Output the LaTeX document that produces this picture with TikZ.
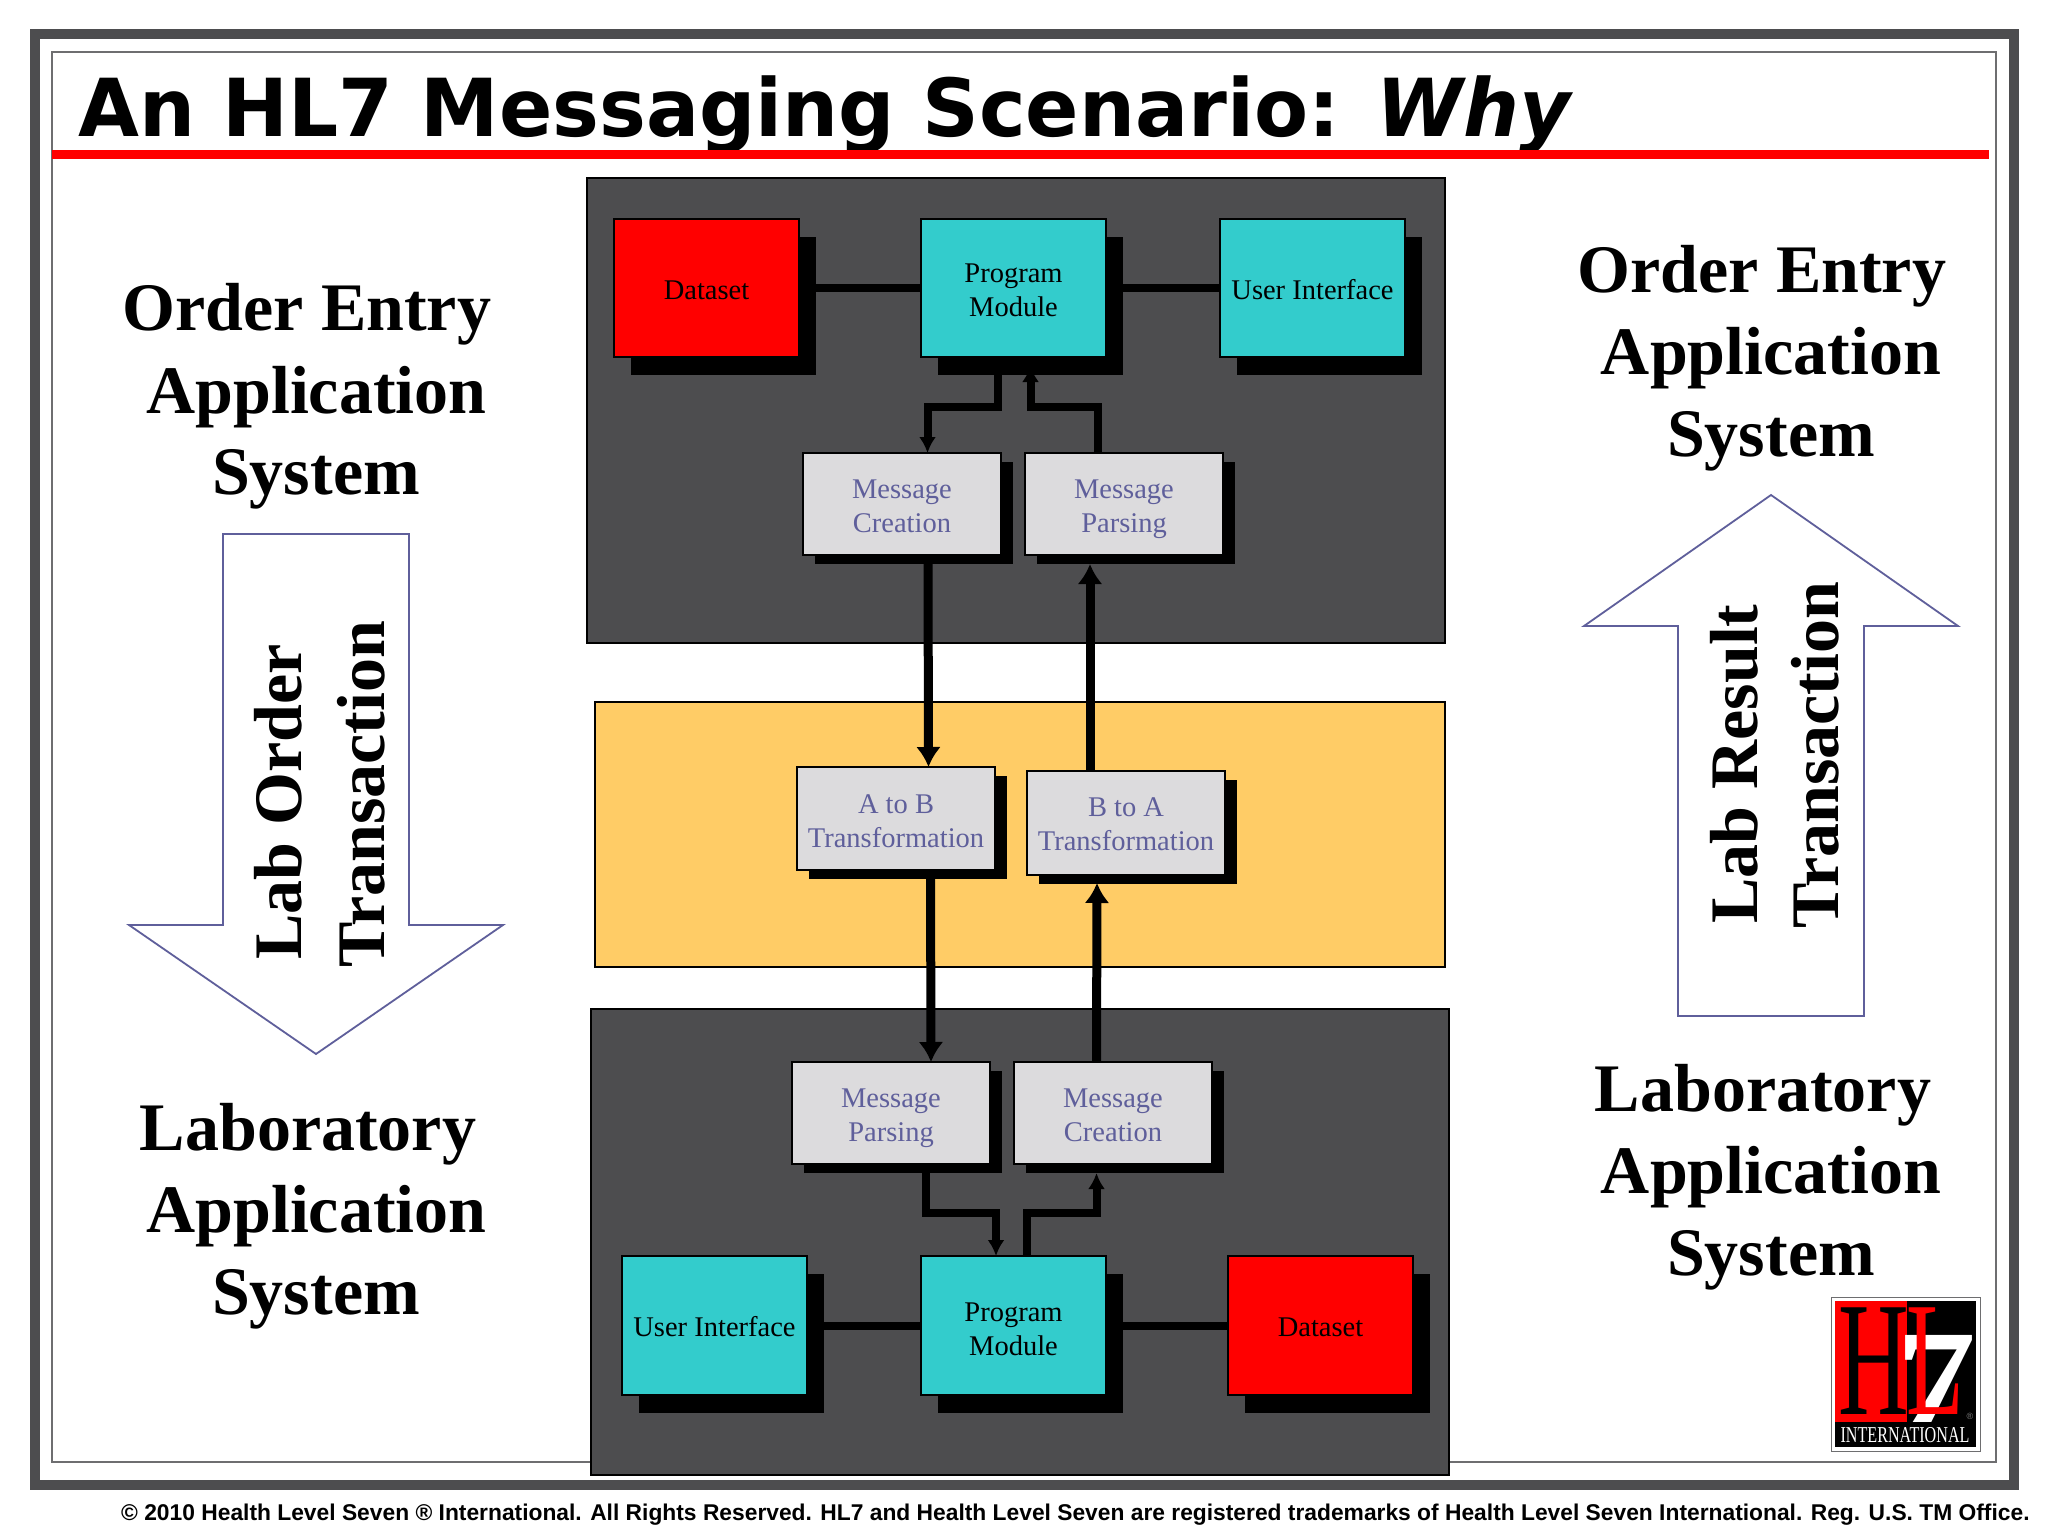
\documentclass[tikz,border=0pt]{standalone}
\usepackage{fontspec}
\setmainfont{Liberation Serif}
\newfontfamily\titlefont{DejaVu Sans}
\newfontfamily\footfont{Liberation Sans}
\usetikzlibrary{arrows.meta,shadows}
\definecolor{darkpanel}{HTML}{4D4D4F}
\definecolor{tealbox}{HTML}{33CCCC}
\definecolor{graybox}{HTML}{DCDBDD}
\definecolor{orangepanel}{HTML}{FFCC66}
\definecolor{msgtext}{HTML}{5F5F9B}
\definecolor{framegray}{HTML}{6E6E70}
\newcommand\lowerline[2][6.5pt]{\raisebox{-#1}[\height][\depth]{#2}}
\tikzset{
  x=1pt,y=-1pt,
  panel/.style={draw=black,line width=1.6pt,anchor=north west,inner sep=0pt,outer sep=0pt},
  bigbox/.style={draw=black,line width=2.6pt,anchor=north west,inner sep=0pt,outer sep=0pt,
    minimum width=185pt,minimum height=138pt,align=center,
    font=\fontsize{28.5}{34}\selectfont,text=black,
    execute at begin node={\rule{0pt}{30pt}},
    execute at end node={\rule[-8pt]{0pt}{8pt}},
    drop shadow={shadow xshift=17pt,shadow yshift=-18pt,fill=black,opacity=1}},
  msgbox/.style={draw=black,line width=2.4pt,fill=graybox,anchor=north west,inner sep=0pt,outer sep=0pt,
    minimum width=198pt,minimum height=102pt,align=center,
    font=\fontsize{28.5}{34}\selectfont,text=msgtext,
    execute at begin node={\rule{0pt}{30pt}},
    execute at end node={\rule[-8pt]{0pt}{8pt}},
    drop shadow={shadow xshift=12pt,shadow yshift=-9pt,fill=black,opacity=1}},
  biglabel/.style={anchor=base,inner sep=0pt,font=\fontsize{68}{82}\selectfont\bfseries},
  sidelabel/.style={anchor=base,inner sep=0pt,rotate=90,font=\fontsize{68}{82}\selectfont\bfseries},
  heavy/.style={line width=9pt,-{Latex[width=25pt,length=20pt]},black},
  thinarrow/.style={line width=8pt,-{Latex[width=17pt,length=16pt]},black,miter limit=10},
  plainlink/.style={line width=8pt,black},
  blockarrow/.style={draw=msgtext,line width=1.8pt,fill=white,line join=miter},
}
\begin{document}
\begin{tikzpicture}
\useasboundingbox (0,0) rectangle (2048,1536);
\fill[white] (0,0) rectangle (2048,1536);
% frames
\draw[darkpanel,line width=10pt] (34.5,34) rectangle (2014,1484.5);
\draw[framegray,line width=2pt] (52,52) rectangle (1996,1462);
% title
\node[anchor=base west,inner sep=0pt,xscale=.984,transform shape,font=\titlefont\fontsize{80}{90}\selectfont\bfseries] (title) at (78,137) {An HL7 Messaging Scenario: \itshape Why};
\fill[red] (52,150) rectangle (1989,159);
% panels
\node[panel,fill=darkpanel,minimum width=858pt,minimum height=465pt] (top) at (587,178) {};
\node[panel,fill=orangepanel,minimum width=850pt,minimum height=265pt] (mid) at (595,702) {};
\node[panel,fill=darkpanel,minimum width=858pt,minimum height=466pt] (bot) at (591,1009) {};
% top boxes
\node[bigbox,fill=red] (dataA) at (614,219) {Dataset};
\node[bigbox,fill=tealbox] (progA) at (921,219) {\lowerline{Program}\\\lowerline{Module}};
\node[bigbox,fill=tealbox] (uiA) at (1220,219) {User Interface};
\node[msgbox] (mcA) at (803,453) {\lowerline{Message}\\\lowerline{Creation}};
\node[msgbox] (mpA) at (1025,453) {\lowerline{Message}\\\lowerline{Parsing}};
% middle boxes
\node[msgbox,minimum height=103pt] (ab) at (797,767) {\lowerline{A to B}\\\lowerline{Transformation}};
\node[msgbox,minimum height=104pt] (ba) at (1027,771) {\lowerline[5.5pt]{B to A}\\\lowerline[5.5pt]{Transformation}};
% bottom boxes
\node[msgbox] (mpB) at (792,1062) {\lowerline{Message}\\\lowerline{Parsing}};
\node[msgbox] (mcB) at (1014,1062) {\lowerline{Message}\\\lowerline{Creation}};
\node[bigbox,fill=tealbox,minimum height=139pt] (uiB) at (622,1256) {User Interface};
\node[bigbox,fill=tealbox,minimum height=139pt] (progB) at (921,1256) {\lowerline[8pt]{Program}\\\lowerline[8pt]{Module}};
\node[bigbox,fill=red,minimum height=139pt] (dataB) at (1228,1256) {Dataset};
% connectors
\draw[plainlink] (dataA) -- (progA);
\draw[plainlink] (progA) -- (uiA);
\draw[plainlink] (uiB) -- (progB);
\draw[plainlink] (progB) -- (dataB);
\draw[thinarrow] ([xshift=-16pt]progA.south) -- ++(0,50) -| ([xshift=25.5pt]mcA.north);
\draw[thinarrow] ([xshift=-26pt]mpA.north) -- ++(0,-46) -| ([xshift=17pt,yshift=-9pt]progA.south);
\draw[heavy] ([xshift=26pt]mcA.south) -- ([xshift=32.5pt]ab.north);
\draw[heavy] ([xshift=-36pt]ba.north) -- ([xshift=-34pt,yshift=-9pt]mpA.south);
\draw[heavy] ([xshift=34.5pt]ab.south) -- ([xshift=40pt]mpB.north);
\draw[heavy] ([xshift=-16.5pt]mcB.north) -- ([xshift=-29pt,yshift=-8pt]ba.south);
\draw[thinarrow] ([xshift=34.5pt]mpB.south) -- ++(0,49) -| ([xshift=-17.5pt]progB.north);
\draw[thinarrow] ([xshift=13.5pt]progB.north) -- ++(0,-43) -| ([xshift=-16.5pt,yshift=-9pt]mcB.south);
% left labels
\node[biglabel] (l1) at (307,330) {Order Entry};
\node[biglabel] (l2) at (316.5,413) {Application};
\node[biglabel] (l3) at (316,494) {System};
\node[biglabel] (l4) at (308,1150) {Laboratory};
\node[biglabel] (l5) at (316.5,1232) {Application};
\node[biglabel] (l6) at (316,1314) {System};
% right labels
\node[biglabel] (r1) at (1762,292) {Order Entry};
\node[biglabel] (r2) at (1771,374) {Application};
\node[biglabel] (r3) at (1771,456) {System};
\node[biglabel] (r4) at (1763,1111) {Laboratory};
\node[biglabel] (r5) at (1771,1193) {Application};
\node[biglabel] (r6) at (1771,1275) {System};
% block arrows
\draw[blockarrow] (223,534) -- (409,534) -- (409,925) -- (503,925) -- (316,1054) -- (129,925) -- (223,925) -- cycle;
\draw[blockarrow] (1771,495) -- (1958,626) -- (1864,626) -- (1864,1016) -- (1678,1016) -- (1678,626) -- (1584,626) -- cycle;
\node[sidelabel] (s1) at (301,802) {Lab Order};
\node[sidelabel] (s2) at (384.5,794) {Transaction};
\node[sidelabel] (s3) at (1757,764) {Lab Result};
\node[sidelabel] (s4) at (1838,755) {Transaction};
% logo
\node[draw=framegray,line width=1.4pt,fill=white,anchor=north west,inner sep=0pt,minimum width=149pt,minimum height=154pt] (logo) at (1831,1297) {};
\fill[black] (1835,1301) rectangle (1976,1447);
\fill[red] (1835,1301) rectangle (1907,1422);
\node[anchor=base west,inner sep=0pt,text=black,xscale=.6,transform shape,font=\fontsize{163}{163}\selectfont] (aitch) at (1838,1414) {H};
\node[anchor=base,inner sep=0pt,text=white,xscale=1.2,transform shape,font=\fontsize{133}{133}\selectfont\bfseries] (seven) at (1936,1422) {7};
\begin{scope}
\clip (1907,1301) rectangle (1980,1440);
\node[anchor=base west,inner sep=0pt,text=red,xscale=.58,transform shape,font=\fontsize{163}{163}\selectfont] (ell) at (1906,1414) {L};
\end{scope}
\node[anchor=center,inner sep=0pt,text=white,xscale=.71,transform shape,font=\fontsize{22.7}{24}\selectfont] (intl) at (1905,1435) {INTERNATIONAL};
\node[anchor=center,inner sep=0pt,text=gray,font=\footfont\fontsize{9}{9}\selectfont] (reg) at (1970,1416) {®};
% footer
\node[anchor=base west,inner sep=0pt,font=\footfont\fontsize{22.8}{24}\selectfont\bfseries] (foot) at (121,1520) {© 2010 Health Level Seven ® International. All Rights Reserved. HL7 and Health Level Seven are registered trademarks of Health Level Seven International. Reg. U.S. TM Office.};
\end{tikzpicture}
\end{document}
